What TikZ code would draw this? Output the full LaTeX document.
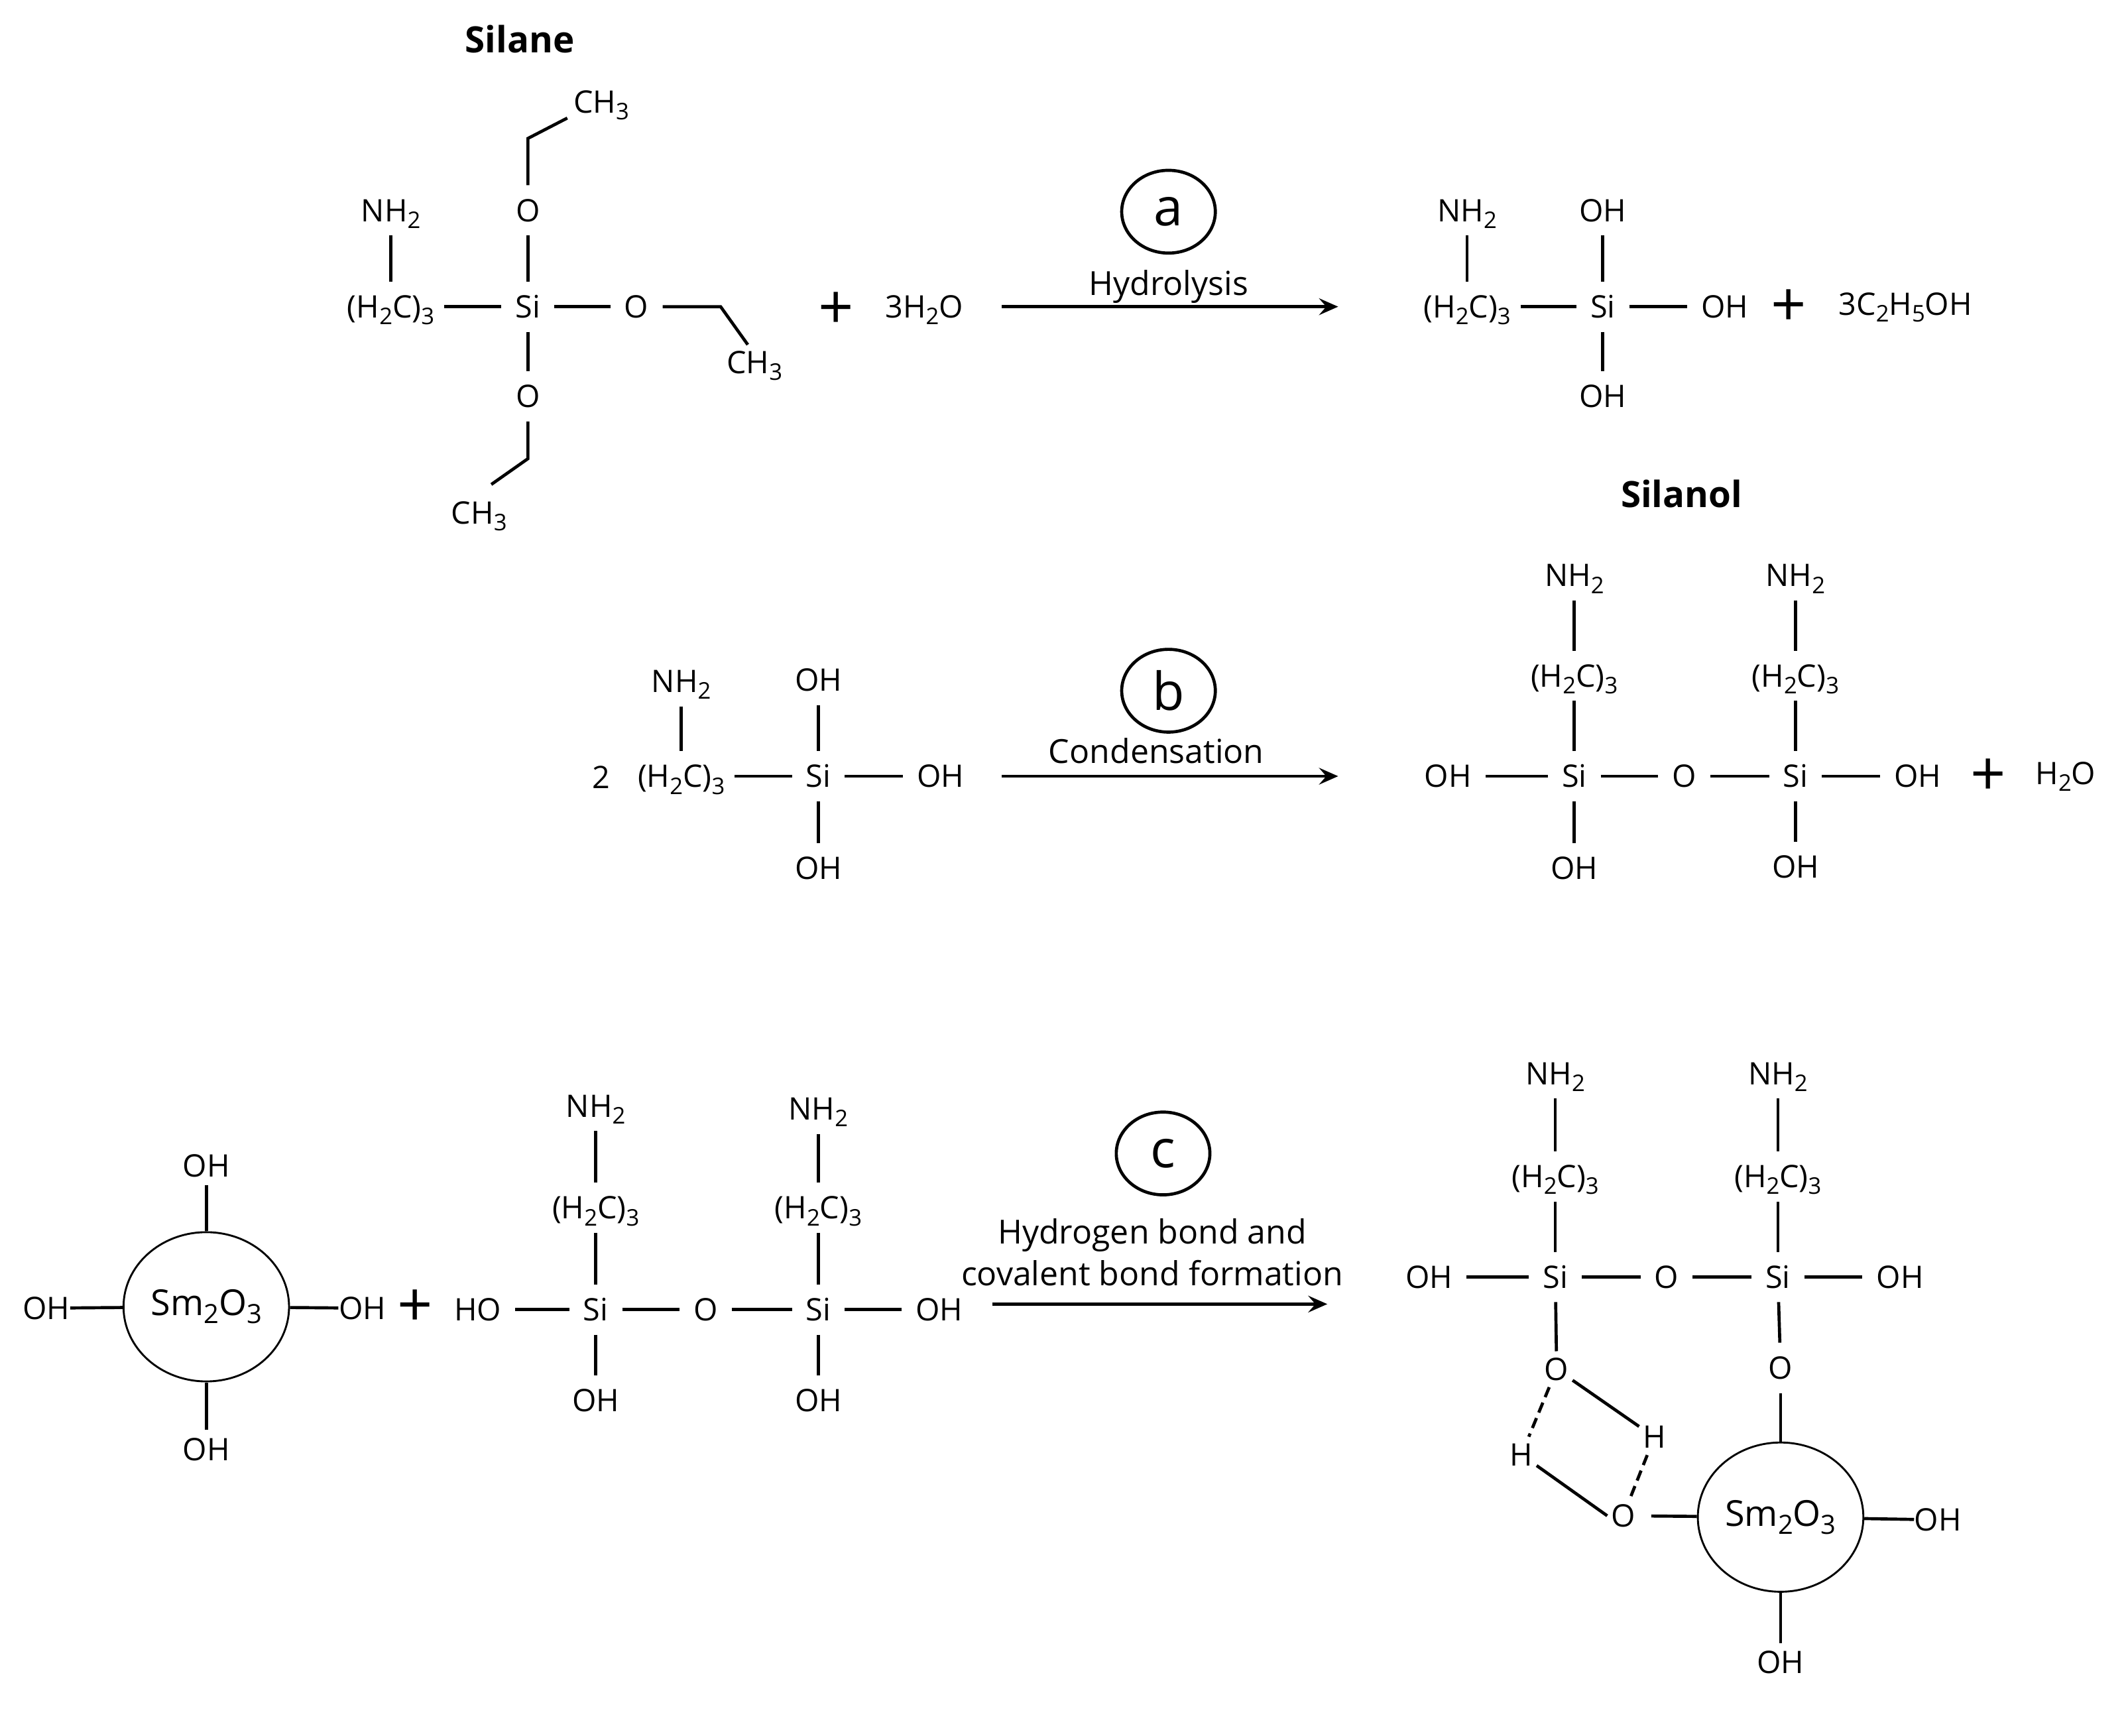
\documentclass[tikz,border=0pt]{standalone}
\usepackage{fontspec}
\setmainfont{Open Sans}
\usetikzlibrary{shapes.geometric, arrows.meta}

\newcommand{\sub}[1]{\raisebox{-.22em}{\scalebox{.74}{#1}}}
\newcommand{\hc}{(H\sub{2}C)\sub{3}}
\newcommand{\nh}{NH\sub{2}}
\newcommand{\cm}{CH\sub{3}}
\newcommand{\smo}{Sm\sub{2}O\sub{3}}

\tikzset{
    atom/.style={inner xsep=.2cm, inner ysep=4.5pt, text height=10.5pt, text depth=1.2pt, font=\fontsize{13}{16}\selectfont},
    chain/.style={atom, inner xsep=.14cm},
    nearatom/.style={atom, inner xsep=0pt, inner ysep=2pt},
    ringatom/.style={atom, inner xsep=.05cm, inner ysep=1.5pt},
    bond/.style={line width=1.3pt},
    hbond/.style={line width=1.3pt, dash pattern=on 4.5pt off 2.5pt},
    rxnarrow/.style={line width=1.3pt, -{Stealth[length=8pt, width=7pt, inset=3pt]}},
    particle/.style={draw, ellipse, line width=.8pt, minimum width=2.44cm, minimum height=2.2cm, inner sep=0pt, font=\fontsize{15}{18}\selectfont},
    tag/.style={draw, ellipse, line width=1.3pt, minimum width=1.38cm, minimum height=1.22cm, inner sep=0pt, font=\fontsize{22}{26}\selectfont},
    rxnlabel/.style={inner sep=0pt, text height=10.5pt, text depth=3pt, font=\fontsize{13.9}{16}\selectfont},
    plus/.style={inner sep=0pt, font=\fontsize{26}{30}\selectfont},
    heading/.style={inner sep=0pt, font=\fontsize{15.2}{18}\selectfont\bfseries}
}

\begin{document}
\begin{tikzpicture}[x=.02cm, y=-.02cm]
        \useasboundingbox (0,0) rectangle (1568,1279);

        % silane
        \node[heading] (silane) at (383,29) {Silane};
        \node[atom] (cha) at (443,75) {\cm};
        \coordinate (ca) at (389,102);
        \coordinate (ce) at (418,87);
        \node[atom] (oa) at (389,155) {O};
        \node[atom] (nha) at (288,155) {\nh};
        \node[chain] (hca) at (288,226) {\hc};
        \node[atom] (sia) at (389,226) {Si};
        \node[atom] (ob) at (469,226) {O};
        \coordinate (cb) at (531,226);
        \coordinate (cf) at (551,254);
        \node[atom] (chb) at (556,267) {\cm};
        \node[atom] (oc) at (389,292) {O};
        \coordinate (cc) at (389,338);
        \coordinate (cd) at (362,357);
        \node[atom] (chc) at (353,378) {\cm};

        \draw[bond] (ce) -- (ca) -- (oa);
        \draw[bond] (oa) -- (sia);
        \draw[bond] (nha) -- (hca);
        \draw[bond] (hca) -- (sia);
        \draw[bond] (sia) -- (ob);
        \draw[bond] (ob) -- (cb) -- (cf);
        \draw[bond] (sia) -- (oc);
        \draw[bond] (oc) -- (cc) -- (cd);

        \node[plus] (plusa) at (616,229) {+};
        \node[atom] (watera) at (681,226) {3H\sub{2}O};

        % step a
        \node[tag] (taga) at (861,156) {a};
        \node[rxnlabel] (hydro) at (861,211) {Hydrolysis};
        \coordinate (arra) at (738,226);
        \coordinate (arrb) at (986,226);
        \draw[rxnarrow] (arra) -- (arrb);

        % silanol
        \node[atom] (nhb) at (1081,155) {\nh};
        \node[chain] (hcb) at (1081,226) {\hc};
        \node[atom] (sib) at (1181,226) {Si};
        \node[atom] (oha) at (1181,155) {OH};
        \node[atom] (ohb) at (1271,226) {OH};
        \node[atom] (ohc) at (1181,292) {OH};
        \node[plus] (plusb) at (1318,227) {+};
        \node[atom] (ethanol) at (1404,224) {3C\sub{2}H\sub{5}OH};
        \node[heading] (silanol) at (1239,364) {Silanol};

        \draw[bond] (nhb) -- (hcb);
        \draw[bond] (hcb) -- (sib);
        \draw[bond] (oha) -- (sib);
        \draw[bond] (sib) -- (ohb);
        \draw[bond] (sib) -- (ohc);

        % step b
        \node[atom] (two) at (443,573) {2};
        \node[atom] (nhc) at (502,502) {\nh};
        \node[chain] (hcc) at (502,572) {\hc};
        \node[atom] (sic) at (603,572) {Si};
        \node[atom] (ohd) at (603,501) {OH};
        \node[atom] (ohe) at (693,572) {OH};
        \node[atom] (ohf) at (603,640) {OH};

        \draw[bond] (nhc) -- (hcc);
        \draw[bond] (hcc) -- (sic);
        \draw[bond] (ohd) -- (sic);
        \draw[bond] (sic) -- (ohe);
        \draw[bond] (sic) -- (ohf);

        \node[tag] (tagb) at (861,509) {b};
        \node[rxnlabel] (cond) at (852,556) {Condensation};
        \coordinate (arrc) at (738,572);
        \coordinate (arrd) at (986,572);
        \draw[rxnarrow] (arrc) -- (arrd);

        \node[atom] (nhd) at (1160,424) {\nh};
        \node[chain] (hcd) at (1160,498) {\hc};
        \node[atom] (sid) at (1160,572) {Si};
        \node[atom] (ohg) at (1067,572) {OH};
        \node[atom] (ohh) at (1160,640) {OH};
        \node[atom] (od) at (1241,572) {O};
        \node[atom] (nhe) at (1323,424) {\nh};
        \node[chain] (hce) at (1323,498) {\hc};
        \node[atom] (sie) at (1323,572) {Si};
        \node[atom] (ohi) at (1413,572) {OH};
        \node[atom] (ohj) at (1323,639) {OH};
        \node[plus] (plusc) at (1465,573) {+};
        \node[atom] (waterb) at (1522,570) {H\sub{2}O};

        \draw[bond] (nhd) -- (hcd);
        \draw[bond] (hcd) -- (sid);
        \draw[bond] (ohg) -- (sid);
        \draw[bond] (sid) -- (ohh);
        \draw[bond] (sid) -- (od);
        \draw[bond] (od) -- (sie);
        \draw[bond] (nhe) -- (hce);
        \draw[bond] (hce) -- (sie);
        \draw[bond] (sie) -- (ohi);
        \draw[bond] (sie) -- (ohj);

        % step c
        \node[particle] (sma) at (152,963) {\smo};
        \node[nearatom] (ohk) at (152,859) {OH};
        \node[nearatom] (ohl) at (152,1068) {OH};
        \node[nearatom] (ohm) at (34,964) {OH};
        \node[nearatom] (ohn) at (267,964) {OH};

        \draw[bond] (ohk) -- (sma);
        \draw[bond] (sma) -- (ohl);
        \draw[bond] (ohm) -- (sma);
        \draw[bond] (sma) -- (ohn);

        \node[plus] (plusd) at (306,964) {+};
        \node[atom] (hoa) at (352,965) {HO};
        \node[atom] (sif) at (439,965) {Si};
        \node[atom] (oe) at (520,965) {O};
        \node[atom] (sig) at (603,965) {Si};
        \node[atom] (oho) at (692,965) {OH};
        \node[atom] (nhf) at (439,815) {\nh};
        \node[chain] (hcf) at (439,890) {\hc};
        \node[atom] (nhg) at (603,817) {\nh};
        \node[chain] (hcg) at (603,890) {\hc};
        \node[atom] (ohp) at (439,1032) {OH};
        \node[atom] (ohq) at (603,1032) {OH};

        \draw[bond] (hoa) -- (sif);
        \draw[bond] (sif) -- (oe);
        \draw[bond] (oe) -- (sig);
        \draw[bond] (sig) -- (oho);
        \draw[bond] (nhf) -- (hcf);
        \draw[bond] (hcf) -- (sif);
        \draw[bond] (nhg) -- (hcg);
        \draw[bond] (hcg) -- (sig);
        \draw[bond] (sif) -- (ohp);
        \draw[bond] (sig) -- (ohq);

        \node[tag] (tagc) at (857,850) {c};
        \node[rxnlabel] (hbonda) at (849,910) {Hydrogen bond and};
        \node[rxnlabel] (hbondb) at (849,941) {covalent bond formation};
        \coordinate (arre) at (731,961);
        \coordinate (arrf) at (978,961);
        \draw[rxnarrow] (arre) -- (arrf);

        \node[atom] (nhh) at (1146,791) {\nh};
        \node[chain] (hch) at (1146,867) {\hc};
        \node[atom] (sih) at (1146,941) {Si};
        \node[atom] (ohr) at (1053,941) {OH};
        \node[atom] (of) at (1228,941) {O};
        \node[atom] (sii) at (1310,941) {Si};
        \node[atom] (ohs) at (1400,941) {OH};
        \node[atom] (nhi) at (1310,791) {\nh};
        \node[chain] (hci) at (1310,867) {\hc};
        \node[ringatom] (og) at (1147,1009) {O};
        \node[atom] (oh) at (1312,1008) {O};
        \node[ringatom] (ha) at (1219,1059) {H};
        \node[ringatom] (hb) at (1121,1072) {H};
        \node[ringatom] (oi) at (1196,1117) {O};
        \node[particle] (smb) at (1312,1118) {\smo};
        \node[nearatom] (oht) at (1428,1120) {OH};
        \node[nearatom] (ohu) at (1312,1225) {OH};

        \draw[bond] (nhh) -- (hch);
        \draw[bond] (hch) -- (sih);
        \draw[bond] (ohr) -- (sih);
        \draw[bond] (sih) -- (of);
        \draw[bond] (of) -- (sii);
        \draw[bond] (sii) -- (ohs);
        \draw[bond] (nhi) -- (hci);
        \draw[bond] (hci) -- (sii);
        \draw[bond] (sih) -- (og);
        \draw[bond] (sii) -- (oh);
        \draw[bond] (oh) -- (smb);
        \draw[bond] (og) -- (ha);
        \draw[hbond] (og) -- (hb);
        \draw[bond] (hb) -- (oi.west);
        \draw[hbond] (ha) -- (oi);
        \draw[bond, shorten <=.18cm] (oi) -- (smb);
        \draw[bond] (smb) -- (oht);
        \draw[bond] (smb) -- (ohu);
    \end{tikzpicture}
\end{document}
